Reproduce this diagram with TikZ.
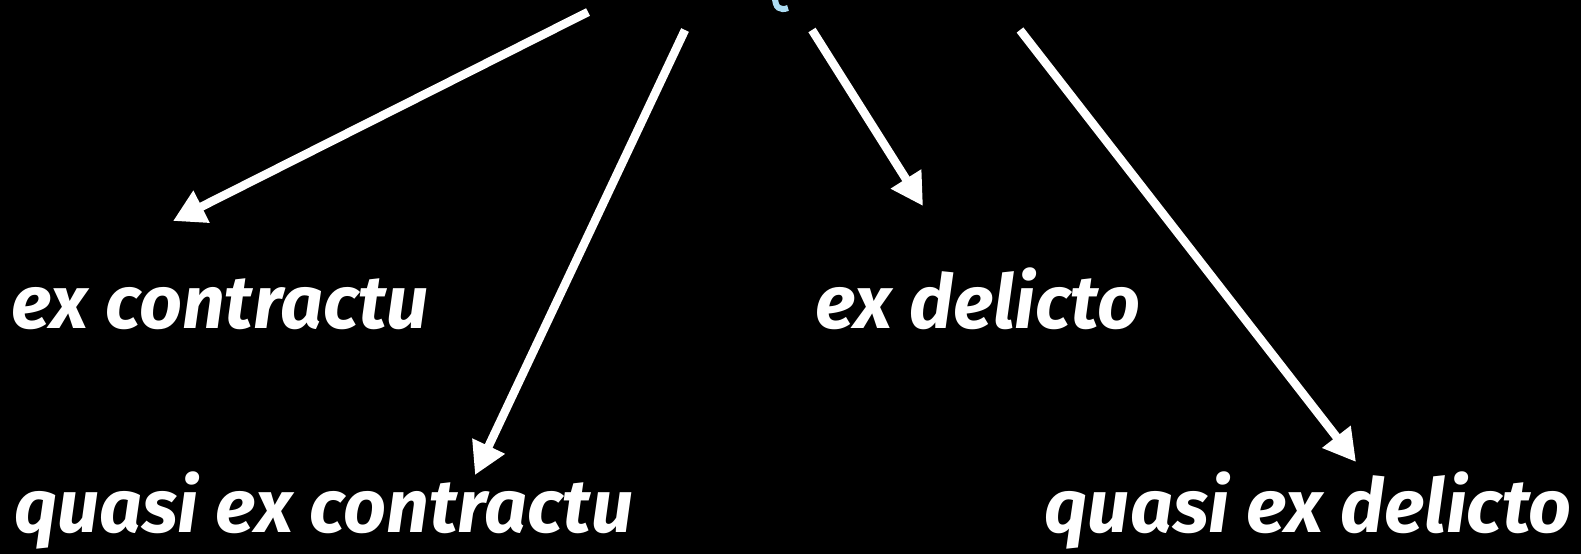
\documentclass[tikz,border=0pt]{standalone}
\usepackage{fontspec}
\setmainfont{Fira Sans}
\usetikzlibrary{arrows.meta}
\definecolor{hint}{HTML}{ADDDF3}
\tikzset{
  lbl/.style={text=white, anchor=base west, inner sep=0pt, font=\fontsize{75}{84}\selectfont\bfseries\itshape},
  arr/.style={draw=white, line width=8.5pt, -{Triangle[length=32pt,width=34pt]}}
}
\begin{document}
\begin{tikzpicture}[x=1pt,y=-1pt]
\fill[black] (0,0) rectangle (1581,554);
\useasboundingbox (0,0) rectangle (1581,554);
\node[lbl] (ec) at (11,328) {ex contractu};
\node[lbl] (ed) at (815,328) {ex delicto};
\node[lbl] (qec) at (14,532) {quasi ex contractu};
\node[lbl, anchor=base east] (qed) at (1572,532) {quasi ex delicto};
\coordinate (s1) at (588,12);
\coordinate (t1) at (173,221);
\coordinate (s2) at (685,30);
\coordinate (t2) at (475,475);
\coordinate (s3) at (812,30);
\coordinate (t3) at (923,206);
\coordinate (s4) at (1020,30);
\coordinate (t4) at (1356,462);
\draw[arr] (s1) -- (t1);
\draw[arr] (s2) -- (t2);
\draw[arr] (s3) -- (t3);
\draw[arr] (s4) -- (t4);
\draw[hint, line width=6pt] (775,-3) .. controls (775,8) and (780,11) .. (788,8);
\end{tikzpicture}
\end{document}
